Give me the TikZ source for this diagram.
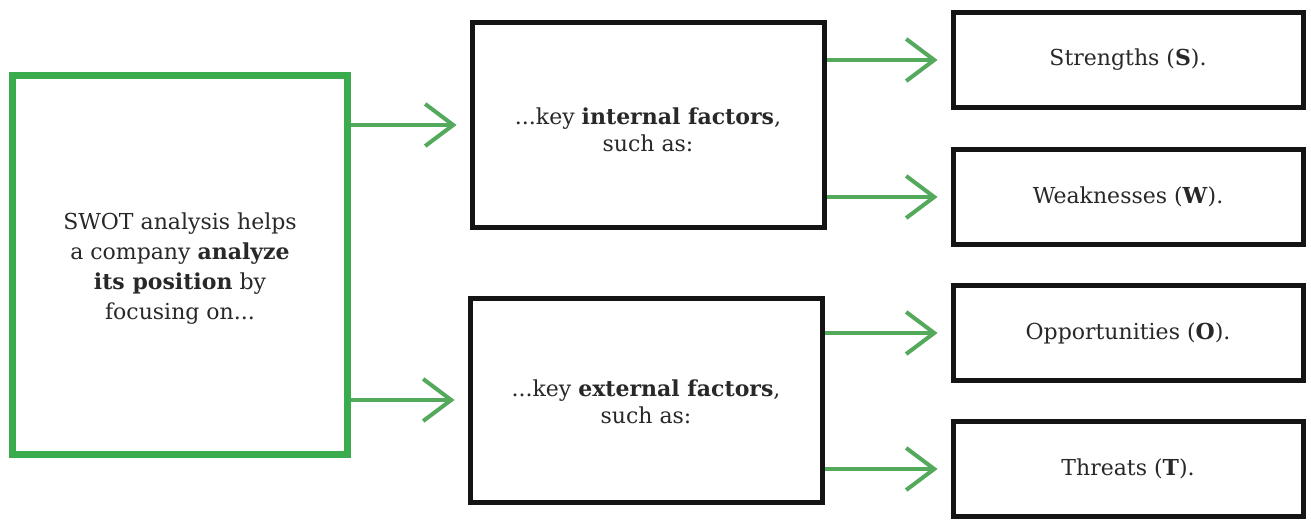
\documentclass[tikz,border=0pt]{standalone}
\usepackage{fontspec}
\setmainfont{DejaVu Serif}
\usetikzlibrary{arrows.meta}
\definecolor{swotgreen}{RGB}{58,172,78}
\definecolor{arrgreen}{RGB}{84,170,92}
\definecolor{inkblack}{RGB}{20,20,20}
\definecolor{txtgray}{RGB}{40,40,40}
\tikzset{
  txt/.style={font=\fontsize{22}{30}\selectfont, align=center, text=txtgray},
  gbox/.style={txt, draw=swotgreen, line width=7pt, minimum width=335pt, minimum height=378pt},
  midbox/.style={txt, draw=inkblack, line width=5pt, minimum width=352pt, minimum height=204pt, font=\fontsize{22}{27}\selectfont},
  outbox/.style={txt, draw=inkblack, line width=5pt, minimum width=350pt, minimum height=95pt},
  arr/.style={draw=arrgreen, line width=4pt, shorten >=13pt,
    -{Straight Barb[length=28pt, width=42pt, line width=4pt]}}
}
\begin{document}
\begin{tikzpicture}[x=1pt, y=-1pt]
\useasboundingbox (0,0) rectangle (1311,524);
\fill[white] (0,0) rectangle (1311,524);
\node[gbox] (swot) at (180,265) {};
\node[txt] (swottext) at (180,269) {SWOT analysis helps\\a company \textbf{analyze}\\\textbf{its position} by\\focusing on...};
\node[midbox] (internal) at (648,125) {};
\node[txt, font=\fontsize{22}{27}\selectfont] (inttext) at (648,130) {...key \textbf{internal factors},\\such as:};
\node[midbox] (external) at (646,400) {};
\node[txt, font=\fontsize{22}{27}\selectfont] (exttext) at (646,402) {...key \textbf{external factors},\\such as:};
\node[outbox] (S) at (1128,60) {Strengths (\textbf{S}).};
\node[outbox] (W) at (1128,197) {Weaknesses (\textbf{W}).};
\node[outbox] (O) at (1128,333) {Opportunities (\textbf{O}).};
\node[outbox] (T) at (1128,469) {Threats (\textbf{T}).};
\draw[arr] (swot.east |- internal.west) -- (internal.west);
\draw[arr] (swot.east |- external.west) -- (external.west);
\draw[arr] (internal.east |- S.west) -- (S.west);
\draw[arr] (internal.east |- W.west) -- (W.west);
\draw[arr] (external.east |- O.west) -- (O.west);
\draw[arr] (external.east |- T.west) -- (T.west);
\end{tikzpicture}
\end{document}
